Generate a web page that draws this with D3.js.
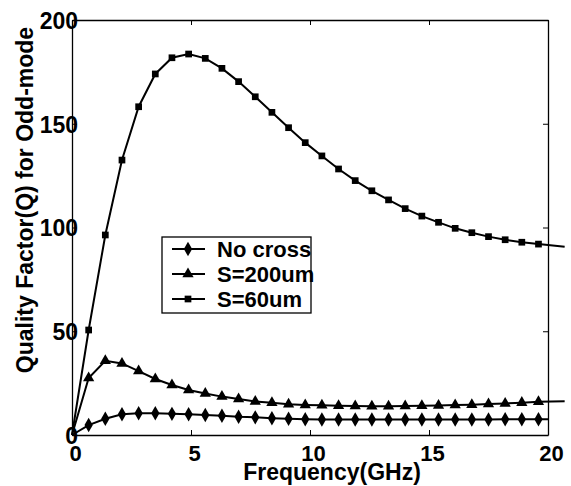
<!DOCTYPE html>
<html>
<head>
<meta charset="utf-8">
<script src="https://d3js.org/d3.v7.min.js"></script>
<style>
  body { margin: 0; background: #fff; }
  text { font-family: "Liberation Sans", Arial, sans-serif; font-weight: bold; fill: #000; }
</style>
</head>
<body>
<div id="chart"></div>
<script>
// frequency points (GHz)
var freq = [0, 0.7, 1.4, 2.1, 2.8, 3.5, 4.2, 4.9, 5.6, 6.3, 7.0, 7.7, 8.4, 9.1, 9.8,
            10.5, 11.2, 11.9, 12.6, 13.3, 14.0, 14.7, 15.4, 16.1, 16.8, 17.5, 18.2, 18.9, 19.6];

var noCross = [0, 4.8, 7.8, 10.0, 10.5, 10.5, 10.2, 10.0, 9.6, 9.3, 8.8, 8.5, 8.1, 7.8, 7.6,
               7.5, 7.5, 7.5, 7.5, 7.5, 7.5, 7.5, 7.5, 7.5, 7.5, 7.5, 7.6, 7.6, 7.6];
var s200 = [0, 27.5, 35.8, 34.5, 30.8, 27.0, 24.1, 21.7, 20.0, 18.5, 17.3, 16.2, 15.5, 14.8, 14.5,
            14.3, 14.1, 14.0, 13.9, 13.9, 14.0, 14.1, 14.2, 14.4, 14.6, 14.9, 15.2, 15.6, 16.0];
var s60 = [0, 50.6, 96.4, 132.5, 158.2, 174, 181.8, 183.6, 181.5, 176.7, 170.3, 163, 155.5, 148.1, 140.9,
           134.5, 128.2, 122.6, 117.7, 113.3, 109.1, 105.5, 102.5, 99.6, 97.5, 95.6, 94.1, 92.9, 92.0];

// lines run a bit past the last marker
var tailFreq = [20.0, 20.7, 20.7];
var tailVal = [7.6, 16.3, 90.7];

var xTicks = [0, 5, 10, 15, 20];
var yTicks = [0, 50, 100, 150, 200];

var names = ["No cross", "S=200um", "S=60um"];
var shapes = [d3.symbolDiamond, d3.symbolTriangle, d3.symbolSquare];
var sizes = [60, 55, 45];

var W = 571, H = 486;
var margin = {top: 20, right: 23, bottom: 51, left: 72};

var svg = d3.select("#chart").append("svg")
  .attr("width", W).attr("height", H);

var x = d3.scaleLinear().domain([0, 20]).range([margin.left, W - margin.right]);
var y = d3.scaleLinear().domain([0, 200]).range([H - margin.bottom, margin.top]);

// box + axes, ticks inward
var axB = svg.append("g").attr("transform", "translate(0," + y(0) + ")")
  .call(d3.axisBottom(x).tickValues(xTicks).tickSizeInner(-5).tickSizeOuter(0).tickPadding(10));
var axT = svg.append("g").attr("transform", "translate(0," + y(200) + ")")
  .call(d3.axisTop(x).tickValues(xTicks).tickSizeInner(-5).tickSizeOuter(0).tickFormat(""));
var axL = svg.append("g").attr("transform", "translate(" + x(0) + ",0)")
  .call(d3.axisLeft(y).tickValues(yTicks).tickSizeInner(-5).tickSizeOuter(0).tickPadding(-6));
var axR = svg.append("g").attr("transform", "translate(" + x(20) + ",0)")
  .call(d3.axisRight(y).tickValues(yTicks).tickSizeInner(-5).tickSizeOuter(0).tickFormat(""));

svg.selectAll(".domain").attr("stroke", "#000").attr("stroke-width", 1.3);
svg.selectAll(".tick line").attr("stroke", "#000").attr("stroke-width", 1);
axB.selectAll("text").style("font-size", "22px").attr("dx", "3");
axL.selectAll("text").style("font-size", "23px").attr("dy", "0.36em");

// series
var series = [noCross, s200, s60].map(function(vals, i) {
  var pts = freq.map(function(f, j) { return [f, vals[j]]; });
  return {name: names[i], pts: pts, tail: [tailFreq[i], tailVal[i]], shape: shapes[i], size: sizes[i]};
});

var line = d3.line().x(function(d) { return x(d[0]); }).y(function(d) { return y(d[1]); });

series.forEach(function(s) {
  svg.append("path")
    .attr("d", line(s.pts.concat([s.tail])))
    .attr("fill", "none").attr("stroke", "#000").attr("stroke-width", 2);
  svg.selectAll(null).data(s.pts.slice(1)).enter()
    .append("path")
    .attr("transform", function(d) { return "translate(" + x(d[0]) + "," + y(d[1]) + ")"; })
    .attr("d", d3.symbol().type(s.shape).size(s.size))
    .attr("fill", "#000");
});

// axis titles
svg.append("text")
  .attr("x", 332).attr("y", 480)
  .attr("text-anchor", "middle")
  .style("font-size", "23px")
  .text("Frequency(GHz)");

svg.append("text")
  .attr("transform", "translate(33,200) rotate(-90)")
  .attr("text-anchor", "middle")
  .style("font-size", "23px")
  .text("Quality Factor(Q) for Odd-mode");

// legend
var lg = svg.append("g");
lg.append("rect")
  .attr("x", 162).attr("y", 237).attr("width", 149).attr("height", 76)
  .attr("fill", "#fff").attr("stroke", "#000").attr("stroke-width", 1.3);
series.forEach(function(s, i) {
  var cy = 249 + i * 25;
  lg.append("line").attr("x1", 172).attr("x2", 205).attr("y1", cy).attr("y2", cy)
    .attr("stroke", "#000").attr("stroke-width", 2);
  lg.append("path").attr("transform", "translate(188," + cy + ")")
    .attr("d", d3.symbol().type(s.shape).size(s.size)).attr("fill", "#000");
  lg.append("text").attr("x", 217).attr("y", cy + 8)
    .style("font-size", "22px").text(s.name);
});
</script>
</body>
</html>
